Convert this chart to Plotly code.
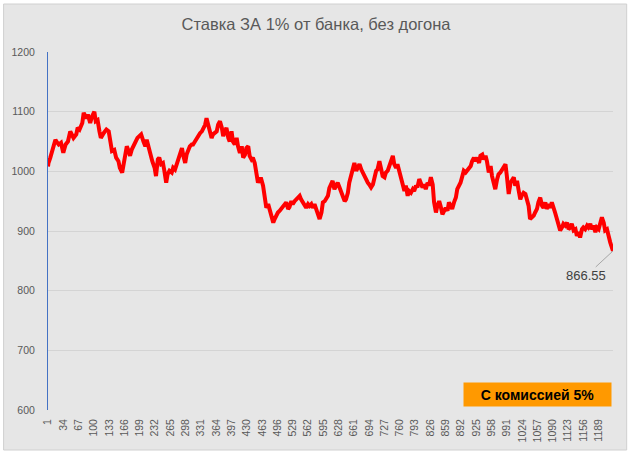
import plotly.graph_objects as go

# index of the trade (x) and bank value (y)
idx = [1,2,6,12,17,21,24,29,34,39,44,49,53,56,62,65,69,75,78,84,87,92,96,101,104,108,112,115,121,127,132,135,139,144,148,153,156,161,164,168,171,175,178,182,185,191,194,198,
       202,207,211,214,218,221,226,231,234,238,241,245,249,252,256,259,263,268,271,275,279,282,286,290,293,297,300,304,307,311,314,318,322,325,329,333,336,340,343,347,350,354,357,361,365,368,372,376,379,383,386,390,393,397,400,
       404,408,411,415,419,422,426,429,433,436,440,443,447,451,454,458,461,465,469,472,476,479,483,487,490,494,497,501,504,508,511,515,519,522,526,529,533,537,540,544,547,551,554,558,562,565,569,572,576,580,583,587,591,594,598,
       601,605,608,612,615,619,623,626,630,634,637,641,644,648,651,655,659,662,666,669,673,677,680,684,687,691,694,698,702,705,709,712,716,720,723,727,730,734,737,741,745,748,752,755,759,763,766,770,773,777,780,784,788,791,795,798,802,806,
       809,813,816,820,823,827,831,834,838,841,845,848,852,856,859,863,866,870,873,877,881,884,888,891,895,898,902,906,909,913,916,920,923,927,931,934,938,941,945,948,952,956,959,963,966,970,973,977,981,984,988,991,995,999,1002,1006,1009,1013,
       1016,1020,1023,1027,1031,1034,1038,1041,1045,1049,1052,1056,1059,1063,1067,1070,1074,1077,1081,1085,1088,1092,1095,1099,1103,1106,1110,1113,1117,1121,1124,1128,1131,1135,1139,1142,1146,1149,1153,1156,1160,1164,1167,1171,1174,1178,1182,1185,1189,1192,1196,1200,1203,1207,1210,1214,1220]

bank = [1008,1014,1023,1039,1053,1048,1045,1048,1031,1045,1050,1067,1059,1056,1062,1073,1070,1081,1098,1089,1095,1081,1092,1100,1084,1086,1067,1056,1064,1070,1067,1050,1034,1036,1023,1017,1006,998,1012,1031,1042,1034,1026,1037,1042,1050,1056,1059,
        1062,1050,1042,1053,1039,1028,1017,1006,992,1020,1023,1012,1014,1001,981,995,1001,998,1006,1003,1014,1023,1031,1039,1026,1014,1028,1039,1042,1045,1045,1050,1056,1059,1064,1067,1073,1078,1089,1078,1070,1056,1062,1064,1067,1078,1084,1073,1059,1067,1073,1056,1050,1067,1050,
        1045,1056,1042,1031,1042,1023,1028,1039,1042,1026,1020,1023,1014,998,981,987,987,976,953,939,945,937,926,914,920,928,931,934,937,939,942,948,937,940,950,945,950,953,956,959,953,948,942,939,945,942,945,939,945,934,926,920,931,948,950,
        953,959,972,981,984,970,976,981,973,964,956,950,953,964,981,992,1001,1014,1001,1006,1012,1003,998,990,984,981,978,973,978,992,1001,1003,1017,1003,992,990,998,1001,1009,1014,1026,1012,1006,1012,1001,990,976,967,976,959,967,964,970,967,976,973,987,978,
        973,978,970,981,976,990,978,948,931,942,950,942,928,934,939,934,948,942,937,948,956,970,976,981,992,1001,998,1003,1006,1009,1017,1023,1017,1023,1014,1026,1028,1020,1026,1017,998,1009,992,976,970,987,995,998,1003,1009,1012,992,962,981,984,990,976,984,
        970,953,959,964,962,950,942,920,923,926,931,937,948,956,942,939,948,937,945,939,948,934,931,920,906,901,906,912,909,914,903,906,912,901,903,892,898,889,903,906,903,909,906,912,903,909,898,906,903,914,923,914,901,903,892,881,866.55]

x_ticks = list(range(1, 1190, 33))
y_ticks = [600, 700, 800, 900, 1000, 1100, 1200]

title_text = "Ставка ЗА 1% от банка, без догона"
box_text = "С комиссией 5%"
last_label = "866.55"

CHART_BG = "#e6e6e6"
GRID = "#d4d4d4"
TXT = "#595959"

fig = go.Figure()
fig.add_trace(go.Scatter(x=idx, y=bank, mode="lines",
                         line=dict(color="#ff0000", width=4), hoverinfo="skip"))

fig.update_layout(
    width=632, height=455,
    margin=dict(l=47.5, r=18.7, t=52, b=45),
    paper_bgcolor="#ffffff",
    plot_bgcolor=CHART_BG,
    showlegend=False,
    font=dict(family="Liberation Sans, Arial, sans-serif", color=TXT, size=10),
    title=dict(text=title_text, x=0.5, xanchor="center", y=1 - 24/455, yanchor="middle",
               font=dict(size=16.5, color=TXT, family="Liberation Sans, Arial, sans-serif")),
    xaxis=dict(range=[1, 1220], tickmode="array", tickvals=x_ticks,
               ticktext=[str(v) for v in x_ticks], tickangle=-90,
               showgrid=False, zeroline=False, showline=False, ticks="",
               ticklabelstandoff=6,
               tickfont=dict(size=10.5, color=TXT)),
    yaxis=dict(range=[600, 1200], tickmode="array", tickvals=y_ticks,
               showgrid=True, gridcolor=GRID, gridwidth=1, zeroline=False,
               showline=True, linecolor="#4472c4", linewidth=1,
               ticks="", ticklabelstandoff=10,
               tickfont=dict(size=10.5, color=TXT)),
    shapes=[
        dict(type="rect", xref="paper", yref="paper",
             x0=(3 - 47.5) / 565.8, x1=(627 - 47.5) / 565.8,
             y0=(410 - 450) / 358, y1=(410 - 4) / 358,
             fillcolor=CHART_BG, line=dict(color="#d0d0d0", width=1), layer="below"),
    ],
    annotations=[
        dict(x=idx[-1], y=bank[-1], xref="x", yref="y", text=last_label,
             showarrow=True, arrowhead=0, arrowwidth=1, arrowcolor="#a6a6a6",
             ax=-27, ay=25, font=dict(size=13, color="#404040")),
        dict(x=(538 - 47.5) / 565.8, y=(410 - 394) / 358, xref="paper", yref="paper",
             text="<b>" + box_text + "</b>", showarrow=False, xanchor="center", yanchor="middle",
             bgcolor="#ff9900", width=147, height=23, borderpad=0,
             font=dict(size=14, color="#000000", family="Liberation Sans, Arial, sans-serif")),
    ],
)

fig.write_html("out.html")
